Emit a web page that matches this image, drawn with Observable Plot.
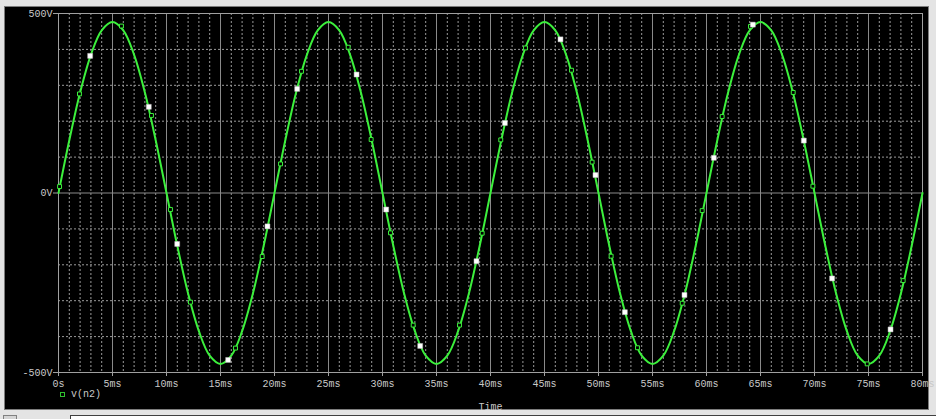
<!DOCTYPE html>
<html>
<head>
<meta charset="utf-8">
<script src="https://cdn.jsdelivr.net/npm/d3@7"></script>
<script src="https://cdn.jsdelivr.net/npm/@observablehq/plot@0.6"></script>
<style>
  html, body { margin: 0; padding: 0; background: #e4e4e4; }
  #wrap { position: relative; width: 936px; height: 419px; overflow: hidden; background: #e4e4e4; }
  #panel { position: absolute; left: 4px; top: 6px; width: 923px; height: 402px; background: #000; border: 1px solid #7c7c7c; }
  #chart { position: absolute; left: 0; top: 0; }
  #legend { position: absolute; left: 60px; top: 388px; height: 12px; display: flex; align-items: center;
            font-family: "Liberation Mono", "DejaVu Sans Mono", monospace; font-size: 10px; color: #c8c8c8; }
  #legend .sw { width: 3px; height: 3px; border: 1px solid #2fc02f; background: #000; margin-right: 6px; }
  #stripL { position: absolute; left: 3px; top: 415px; width: 12px; height: 8px; border: 1px solid #808080; background: #d4d4d4; }
  #stripR { position: absolute; left: 70px; top: 415px; width: 880px; height: 10px; border: 1px solid #404040; background: #fff; }
</style>
</head>
<body>
<div id="wrap">
  <div id="panel"></div>
  <div id="chart"></div>
  <div id="legend"><div class="sw"></div><span>v(n2)</span></div>
  <div id="stripL"></div>
  <div id="stripR"></div>
</div>
<script>
const timeMs = [0,1,2,3,4,5,6,7,8,9,10,11,12,13,14,15,16,17,18,19,
  20,21,22,23,24,25,26,27,28,29,30,31,32,33,34,35,36,37,38,39,
  40,41,42,43,44,45,46,47,48,49,50,51,52,53,54,55,56,57,58,59,
  60,61,62,63,64,65,66,67,68,69,70,71,72,73,74,75,76,77,78,79,80];
const voltage = [0,147,280,385,453,476,453,385,280,147,0,-147,-280,-385,-453,-476,-453,-385,-280,-147,
  0,147,280,385,453,476,453,385,280,147,0,-147,-280,-385,-453,-476,-453,-385,-280,-147,
  0,147,280,385,453,476,453,385,280,147,0,-147,-280,-385,-453,-476,-453,-385,-280,-147,
  0,147,280,385,453,476,453,385,280,147,0,-147,-280,-385,-453,-476,-453,-385,-280,-147,0];

// Green hollow data-point symbols
const greenT = [0.1,1.94,5.83,8.61,10.37,12.22,16.39,18.86,20.56,22.5,26.82,28.95,30.74,32.84,37.13,39.23,
  40.95,43.24,47.5,49.41,51.17,53.61,57.75,59.6,61.45,64.07,68.03,69.85,74.88,78.21];
const greenV = [18,276,465,216,-46,-304,-432,-177,81,339,406,149,-111,-368,-368,-112,
  148,404,342,86,-176,-431,-307,-49,213,464,280,19,-476,-244];

// White filled symbols
const whiteT = [2.93,8.36,10.99,15.71,19.35,22.1,27.6,30.34,33.49,38.7,41.33,46.48,49.72,52.44,57.96,60.68,64.29,69.01,71.63,77.04];
const whiteV = [382,240,-142,-465,-93,290,330,-46,-426,-190,195,428,50,-332,-284,98,469,146,-238,-380];

// Axis ticks
const xTickValues = [0,5,10,15,20,25,30,35,40,45,50,55,60,65,70,75,80];
const xTickLabels = ["0s","5ms","10ms","15ms","20ms","25ms","30ms","35ms","40ms","45ms","50ms","55ms","60ms","65ms","70ms","75ms","80ms"];
const yTickValues = [-500,0,500];
const yTickLabels = ["-500V","0V","500V"];

// Grid positions
const minorX = d3.range(1, 80).filter(d => d % 5 !== 0);
const majorX = d3.range(5, 80, 5);
const minorY = [-400,-300,-200,-100,100,200,300,400];

const GREEN = "#3cf03c";
const FONT = "'Liberation Mono', 'DejaVu Sans Mono', monospace";

const chart = Plot.plot({
  width: 936,
  height: 419,
  marginLeft: 58,
  marginRight: 14,
  marginTop: 13,
  marginBottom: 47,
  style: { background: "transparent", color: "#c8c8c8", fontFamily: FONT, fontSize: "10px", overflow: "visible" },
  x: { domain: [0, 80] },
  y: { domain: [-500, 500] },
  marks: [
    Plot.ruleX(minorX, { stroke: "#9a9a9a", strokeDasharray: "2,2" }),
    Plot.ruleY(minorY, { stroke: "#9a9a9a", strokeDasharray: "2,2" }),
    Plot.ruleX(majorX, { stroke: "#8a8a8a" }),
    Plot.ruleY([0], { stroke: "#8a8a8a" }),
    Plot.frame({ stroke: "#a0a0a0" }),
    Plot.line(voltage, { x: timeMs, y: voltage, curve: "catmull-rom", stroke: GREEN, strokeWidth: 2 }),
    Plot.dot(greenV, { x: greenT, y: greenV, symbol: "square", r: 2.2, stroke: GREEN, fill: "#000", strokeWidth: 1 }),
    Plot.dot(whiteV, { x: whiteT, y: whiteV, symbol: "square", r: 2.8, fill: "#ffffff", stroke: "#bdbdbd", strokeWidth: 0.5 }),
    Plot.axisX(xTickValues, {
      tickFormat: d => xTickLabels[xTickValues.indexOf(d)],
      tickSize: 4, tickPadding: 3,
      stroke: "#a0a0a0", fill: "#c8c8c8",
      label: "Time", labelAnchor: "center", labelArrow: "none", labelOffset: 37
    }),
    Plot.axisY(yTickValues, {
      tickFormat: d => yTickLabels[yTickValues.indexOf(d)],
      tickSize: 5, tickPadding: 1,
      stroke: "#a0a0a0", fill: "#c8c8c8",
      label: null
    })
  ]
});
document.getElementById("chart").appendChild(chart);
</script>
</body>
</html>
